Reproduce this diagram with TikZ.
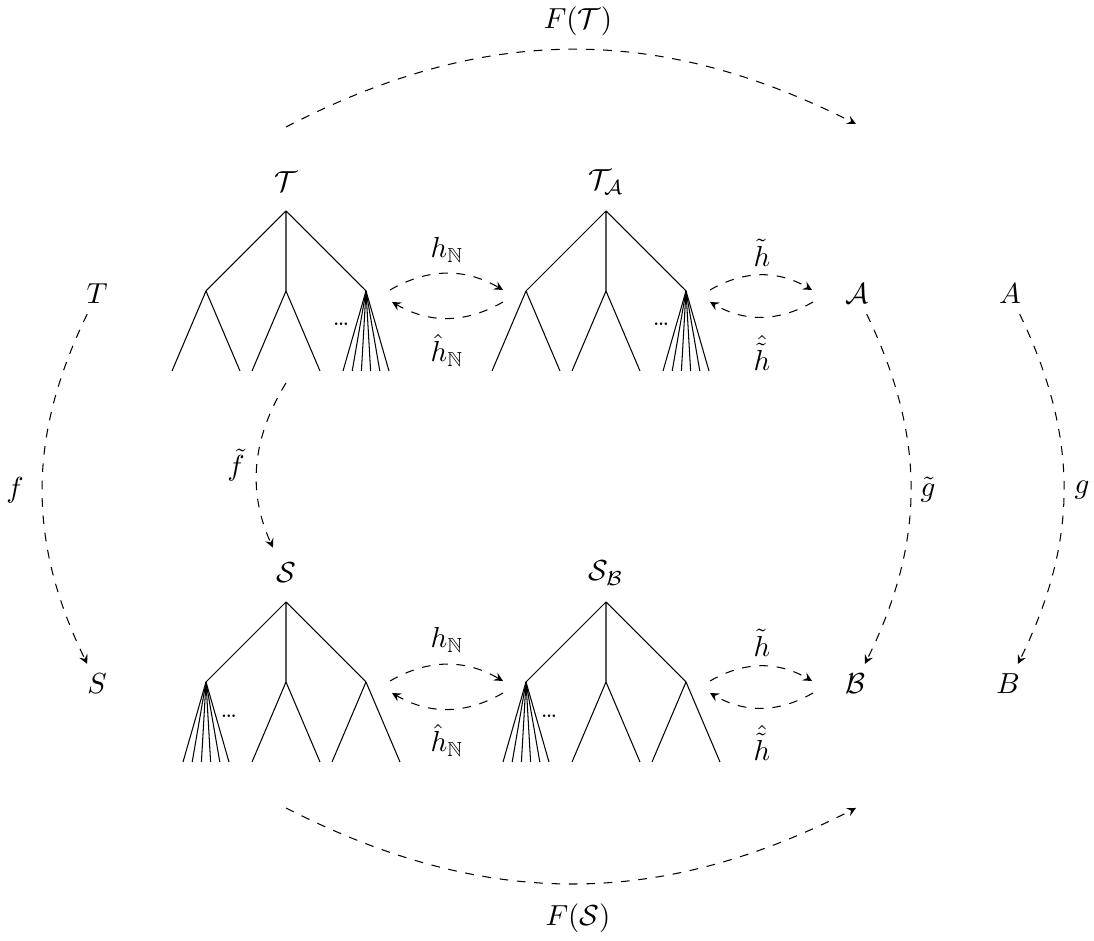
\documentclass[tikz,border=0pt]{standalone}
\usepackage{amssymb}
\begin{document}
\begin{tikzpicture}[x=0.345pt,y=0.345pt,>=stealth,
  every path/.style={line width=0.36pt},
  conn/.style={->,dashed},
  dotsnode/.style={inner sep=0pt,font=\footnotesize},
  uptree/.pic={
    \coordinate (-r) at (0,0);
    \coordinate (-c1) at (-80,-80);
    \coordinate (-c2) at (0,-80);
    \coordinate (-c3) at (80,-80);
    \draw (-r)--(-c1) (-r)--(-c2) (-r)--(-c3);
    \coordinate (-c1a) at (-114,-160);
    \coordinate (-c1b) at (-46,-160);
    \coordinate (-c2a) at (-34,-160);
    \coordinate (-c2b) at (34,-160);
    \draw (-c1)--(-c1a) (-c1)--(-c1b) (-c2)--(-c2a) (-c2)--(-c2b);
    \foreach \i in {0,...,5}{
      \coordinate (-f\i) at ({57+9.2*\i},-160);
      \draw (-c3)--(-f\i);
    }
    \node[dotsnode] (-dots) at (55,-113) {\dots};
  },
  lowtree/.pic={
    \coordinate (-r) at (0,0);
    \coordinate (-c1) at (-80,-80);
    \coordinate (-c2) at (0,-80);
    \coordinate (-c3) at (80,-80);
    \draw (-r)--(-c1) (-r)--(-c2) (-r)--(-c3);
    \coordinate (-c2a) at (-34,-160);
    \coordinate (-c2b) at (34,-160);
    \coordinate (-c3a) at (46,-160);
    \coordinate (-c3b) at (114,-160);
    \draw (-c2)--(-c2a) (-c2)--(-c2b) (-c3)--(-c3a) (-c3)--(-c3b);
    \foreach \i in {0,...,5}{
      \coordinate (-f\i) at ({-103+9.2*\i},-160);
      \draw (-c1)--(-f\i);
    }
    \node[dotsnode] (-dots) at (-57,-114) {\dots};
  }]
\useasboundingbox (0,0) rectangle (1094,941);

% trees
\pic (tT) at (286,730) {uptree};
\pic (tTA) at (606,730) {uptree};
\pic (tS) at (286,339) {lowtree};
\pic (tSB) at (606,339) {lowtree};

% labels of objects
\node (Tcal) at (286,759) {$\mathcal{T}$};
\node (TA) at (606,759) {$\mathcal{T}_{\mathcal{A}}$};
\node (Scal) at (286,368) {$\mathcal{S}$};
\node (SB) at (606,368) {$\mathcal{S}_{\mathcal{B}}$};
\node (T) at (97,647) {$T$};
\node (S) at (97,257) {$S$};
\node (Acal) at (857,647) {$\mathcal{A}$};
\node (A) at (1010,647) {$A$};
\node (Bcal) at (855,257) {$\mathcal{B}$};
\node (B) at (1008,257) {$B$};

% F arrows
\coordinate (FTs) at (286,814);
\coordinate (FTe) at (856,817);
\draw[conn] (FTs) to[bend left=27] (FTe);
\node (FT) at (578,920) {$F(\mathcal{T})$};
\coordinate (FSs) at (286,133);
\coordinate (FSe) at (856,133);
\draw[conn] (FSs) to[bend right=27] (FSe);
\node (FS) at (578,23) {$F(\mathcal{S})$};

% vertical arrows
\draw[conn] (T) to[bend right=26] (S);
\node (f) at (15,451) {$f$};
\draw[conn] (A) to[bend left=26] (B);
\node (g) at (1082,451) {$g$};
\draw[conn] (Acal) to[bend left=26] (Bcal);
\node (gt) at (928,451) {$\tilde{g}$};
\coordinate (fts) at (286,558);
\draw[conn,shorten >=2pt] (fts) to[bend right=28] (Scal);
\node (ft) at (236,476) {$\tilde{f}$};

% horizontal double arrows, upper row
\coordinate (u1s) at (390,651);
\coordinate (u1e) at (503,651);
\draw[conn] (u1s) to[bend left=30] (u1e);
\coordinate (u2s) at (503,639);
\coordinate (u2e) at (392,639);
\draw[conn] (u2s) to[bend left=30] (u2e);
\node (uh) at (447,691) {$h_{\mathbb{N}}$};
\node (uhh) at (447,591) {$\hat{h}_{\mathbb{N}}$};
\coordinate (u3s) at (710,651);
\coordinate (u3e) at (812,651);
\draw[conn] (u3s) to[bend left=30] (u3e);
\coordinate (u4s) at (813,639);
\coordinate (u4e) at (710,639);
\draw[conn] (u4s) to[bend left=30] (u4e);
\node (uht) at (762,688) {$\tilde{h}$};
\node (uhht) at (762,588) {$\hat{\tilde{h}}$};

% horizontal double arrows, lower row
\coordinate (l1s) at (390,260);
\coordinate (l1e) at (503,260);
\draw[conn] (l1s) to[bend left=30] (l1e);
\coordinate (l2s) at (503,248);
\coordinate (l2e) at (392,248);
\draw[conn] (l2s) to[bend left=30] (l2e);
\node (lh) at (447,301) {$h_{\mathbb{N}}$};
\node (lhh) at (447,201) {$\hat{h}_{\mathbb{N}}$};
\coordinate (l3s) at (710,260);
\coordinate (l3e) at (812,260);
\draw[conn] (l3s) to[bend left=30] (l3e);
\coordinate (l4s) at (813,248);
\coordinate (l4e) at (710,248);
\draw[conn] (l4s) to[bend left=30] (l4e);
\node (lht) at (762,298) {$\tilde{h}$};
\node (lhht) at (762,198) {$\hat{\tilde{h}}$};
\end{tikzpicture}
\end{document}
